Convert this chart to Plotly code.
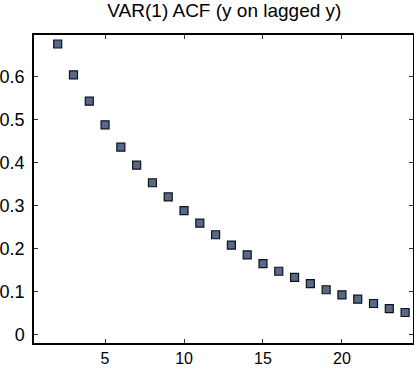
import plotly.graph_objects as go

lags = list(range(2, 25))
acf = [0.676, 0.604, 0.543, 0.488, 0.436, 0.394, 0.353, 0.320, 0.288, 0.259,
       0.232, 0.208, 0.185, 0.165, 0.147, 0.133, 0.118, 0.104, 0.092, 0.082,
       0.072, 0.060, 0.051]
x_ticks = [5, 10, 15, 20]
y_ticks = [0, 0.1, 0.2, 0.3, 0.4, 0.5, 0.6]
y_tick_labels = ["0", "0.1", "0.2", "0.3", "0.4", "0.5", "0.6"]

fig = go.Figure(go.Scatter(
    x=lags, y=acf, mode="markers",
    marker=dict(symbol="square", size=8, color="#56698c",
                line=dict(color="#111111", width=1.2)),
))

axis_common = dict(showgrid=False, zeroline=False, showline=True, linecolor="black",
                   linewidth=1.5, mirror="ticks", ticks="inside", ticklen=4,
                   tickcolor="#333333", tickwidth=1, automargin=False)

fig.update_layout(
    width=414, height=369,
    margin=dict(l=34, r=1, t=35, b=26),
    paper_bgcolor="white", plot_bgcolor="white",
    showlegend=False,
    title=dict(text="VAR(1) ACF (y on lagged y)", x=0.542, xanchor="center", y=0.99, yanchor="top",
               font=dict(family="Liberation Sans, Arial", size=19, color="black")),
    xaxis=dict(range=[0.5, 24.5], tickvals=x_ticks, ticklabelstandoff=0,
               tickfont=dict(family="Liberation Sans, Arial", size=16, color="black"),
               **axis_common),
    yaxis=dict(range=[-0.02, 0.697], tickvals=y_ticks, ticktext=y_tick_labels,
               ticklabelstandoff=4,
               tickfont=dict(family="Liberation Sans, Arial", size=18, color="black"),
               **axis_common),
)

fig.write_html("out.html")
